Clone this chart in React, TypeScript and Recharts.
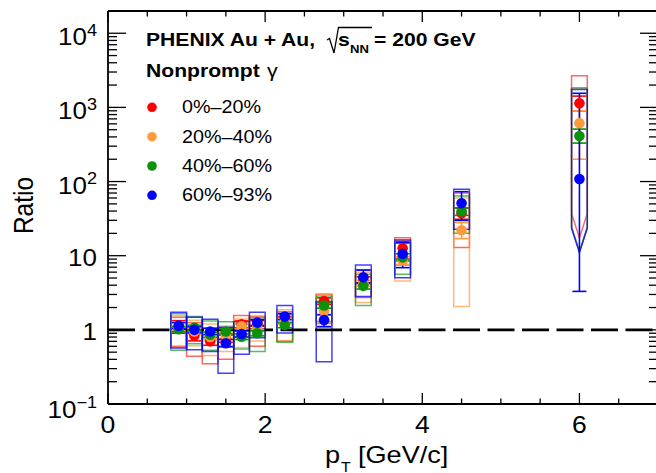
import React from 'react';
import { ComposedChart, Scatter, ErrorBar, XAxis, YAxis, ReferenceArea, ReferenceLine } from 'recharts';

// pT bin centres [GeV/c]
const ptBins = [0.9, 1.1, 1.3, 1.5, 1.7, 1.9, 2.25, 2.75, 3.25, 3.75, 4.5, 6.0];
// bins whose systematic box ends in a lower-limit arrow
const arrowBins = [6.0];
const boxHalfWidth = 0.1;

const centralityLabels = ['0%\u201320%', '20%\u201340%', '40%\u201360%', '60%\u201393%'];
const seriesColors = ['#ff0000', '#ff9a3c', '#0a920a', '#0000ff'];
const boxOpacity = [0.6, 0.7, 0.65, 0.75];

// 0%-20%
const ratio0020 = [1.1, 0.84, 0.7, 0.76, 1.19, 1.22, 1.35, 2.45, 4.7, 12.6, 37.4, 1135];
const statLo0020 = [0.9, 0.71, 0.62, 0.68, 1.06, 1.12, 1.22, 2.2, 4.2, 9.0, 31, 900];
const statHi0020 = [1.33, 0.97, 0.79, 0.85, 1.32, 1.33, 1.49, 2.7, 5.2, 15.5, 44, 1420];
const sysLo0020 = [0.6, 0.44, 0.35, 0.4, 0.82, 0.6, 0.7, 1.23, 2.73, 7.5, 12.9, 17.4];
const sysHi0020 = [1.48, 1.25, 1.05, 1.07, 1.56, 1.5, 1.75, 3.03, 6.44, 17.5, 70, 2680];

// 20%-40%
const ratio2040 = [1.05, 0.95, 0.8, 0.83, 1.12, 1.09, 1.3, 1.8, 4.25, 8.6, 22, 613];
const statLo2040 = [0.97, 0.87, 0.73, 0.76, 1.03, 1.0, 1.2, 1.6, 3.9, 7.6, 17, 200];
const statHi2040 = [1.14, 1.04, 0.88, 0.91, 1.22, 1.18, 1.42, 2.0, 4.65, 9.7, 28, 900];
const sysLo2040 = [0.58, 0.61, 0.45, 0.51, 0.58, 0.71, 0.72, 1.15, 2.33, 4.57, 2.06, 11.4];
const sysHi2040 = [1.55, 1.35, 1.2, 1.13, 1.4, 1.55, 1.86, 3.03, 6.0, 16.3, 60, 1820];

// 40%-60%
const ratio4060 = [1.02, 1.07, 0.86, 0.95, 0.81, 0.9, 1.16, 2.13, 3.92, 9.5, 39.4, 410];
const statLo4060 = [0.94, 0.99, 0.79, 0.88, 0.74, 0.83, 1.07, 1.95, 3.55, 8.5, 35, 330];
const statHi4060 = [1.1, 1.15, 0.93, 1.03, 0.88, 0.97, 1.26, 2.32, 4.3, 10.6, 44, 510];
const sysLo4060 = [0.53, 0.65, 0.53, 0.6, 0.55, 0.51, 0.68, 1.3, 2.13, 5.6, 20.1, 11.4];
const sysHi4060 = [1.65, 1.51, 1.32, 1.29, 1.2, 1.45, 1.6, 2.85, 5.6, 14.7, 64, 1820];

// 60%-93%
const ratio6093 = [1.14, 1.0, 0.95, 0.66, 0.88, 1.25, 1.51, 1.36, 5.12, 10.6, 51, 108];
const statLo6093 = [1.04, 0.91, 0.86, 0.59, 0.8, 1.14, 1.37, 1.1, 4.3, 6.9, 30, 3.3];
const statHi6093 = [1.25, 1.1, 1.05, 0.74, 0.97, 1.37, 1.66, 1.6, 6.4, 15, 73, 1550];
const sysLo6093 = [0.57, 0.54, 0.51, 0.26, 0.47, 0.78, 0.91, 0.37, 2.81, 5.06, 22.7, 11.0];
const sysHi6093 = [1.73, 1.48, 1.39, 1.08, 1.29, 1.73, 2.13, 2.41, 7.5, 16.3, 78.6, 1740];

const xTickValues = [0, 0.5, 1, 1.5, 2, 2.5, 3, 3.5, 4, 4.5, 5, 5.5, 6, 6.5, 7];
const xTickLabels = [0, 2, 4, 6];
const yDecades = [-1, 0, 1, 2, 3, 4];
const yMantissas = [1, 2, 3, 4, 5, 6, 7, 8, 9];
const yTickValues = yDecades
  .flatMap((k) => yMantissas.map((m) => m * Math.pow(10, k)))
  .filter((v) => v < 19000);

const FONT = '"Liberation Sans", Arial, Helvetica, sans-serif';
const SX = 1.13; // the original figure is a little wider than tall

const series = [
  { values: ratio0020, statLo: statLo0020, statHi: statHi0020, sysLo: sysLo0020, sysHi: sysHi0020 },
  { values: ratio2040, statLo: statLo2040, statHi: statHi2040, sysLo: sysLo2040, sysHi: sysHi2040 },
  { values: ratio4060, statLo: statLo4060, statHi: statHi4060, sysLo: sysLo4060, sysHi: sysHi4060 },
  { values: ratio6093, statLo: statLo6093, statHi: statHi6093, sysLo: sysLo6093, sysHi: sysHi6093 },
].map((s, i) => ({
  ...s,
  name: centralityLabels[i],
  color: seriesColors[i],
  boxOpacity: boxOpacity[i],
  points: ptBins.map((x, j) => ({
    x,
    y: s.values[j],
    err: [s.values[j] - s.statLo[j], s.statHi[j] - s.values[j]],
  })),
}));

function isDecade(v: number) {
  const l = Math.log10(v);
  return Math.abs(l - Math.round(l)) < 1e-6;
}

function LeftTick(props: any) {
  const { x, y, payload } = props;
  const v = payload.value;
  const major = isDecade(v);
  const k = Math.round(Math.log10(v));
  const base = k === 0 ? '1' : '10';
  const sup = k < 0 ? `\u2212${-k}` : k >= 2 ? String(k) : null;
  const dy = sup ? (k < 0 ? 13.5 : 12) : 10;
  return (
    <g>
      <line x1={x} x2={x + (major ? 18 : 9)} y1={y} y2={y} stroke="#000" strokeWidth={1.3} />
      {major && (
        <text
          transform={`translate(${x - 11},${y + dy}) scale(${SX},1)`}
          textAnchor="end"
          fontSize={23}
          fontFamily={FONT}
          fill="#000"
        >
          {base}
          {sup && (
            <tspan dy={-9.5} fontSize={16}>
              {sup}
            </tspan>
          )}
        </text>
      )}
    </g>
  );
}

function RightTick(props: any) {
  const { x, y, payload } = props;
  const major = isDecade(payload.value);
  return <line x1={x} x2={x - (major ? 18 : 9)} y1={y} y2={y} stroke="#000" strokeWidth={1.3} />;
}

function BottomTick(props: any) {
  const { x, y, payload } = props;
  const v = payload.value;
  const major = xTickLabels.includes(v);
  return (
    <g>
      <line x1={x} x2={x} y1={y} y2={y - (major ? 11 : 5.5)} stroke="#000" strokeWidth={1.3} />
      {major && (
        <text
          transform={`translate(${x},${y + 28.5}) scale(${SX},1)`}
          textAnchor="middle"
          fontSize={23.5}
          fontFamily={FONT}
          fill="#000"
        >
          {v}
        </text>
      )}
    </g>
  );
}

function TopTick(props: any) {
  const { x, y, payload } = props;
  const major = xTickLabels.includes(payload.value);
  return <line x1={x} x2={x} y1={y} y2={y + (major ? 11 : 5.5)} stroke="#000" strokeWidth={1.3} />;
}

// systematic box whose lower edge is an arrow (lower limit)
function ArrowBox(props: any) {
  const { x, y, width, height, stroke, strokeOpacity, strokeWidth } = props;
  const depth = width * 1.55;
  const d = `M${x},${y + height - depth} L${x},${y} L${x + width},${y} L${x + width},${y + height - depth} L${
    x + width / 2
  },${y + height} Z`;
  return <path d={d} fill="none" stroke={stroke} strokeOpacity={strokeOpacity} strokeWidth={strokeWidth} />;
}

function Txt({ x, y, size, weight = 'normal', anchor = 'start', children }: any) {
  return (
    <text
      transform={`translate(${x},${y}) scale(${SX},1)`}
      textAnchor={anchor}
      fontSize={size}
      fontWeight={weight}
      fontFamily={FONT}
      fill="#000"
    >
      {children}
    </text>
  );
}

function Overlay() {
  const legendRows = [107.3, 136.7, 166, 195.3];
  return (
    <svg width={656} height={473} style={{ position: 'absolute', left: 0, top: 0, pointerEvents: 'none' }}>
      {/* header */}
      <Txt x={146} y={46} size={18.7} weight="bold">
        PHENIX Au + Au,
      </Txt>
      <path d="M327,40 L329.5,38.5 L334,53 L338.5,27.5 L372,27.5" fill="none" stroke="#000" strokeWidth={1.3} />
      <Txt x={338} y={46} size={18.7} weight="bold">
        s
      </Txt>
      <Txt x={350} y={53} size={11.6} weight="bold">
        NN
      </Txt>
      <Txt x={374} y={46} size={18.7} weight="bold">
        = 200 GeV
      </Txt>
      <Txt x={146} y={77} size={18.7} weight="bold">
        Nonprompt
      </Txt>
      <Txt x={267} y={77} size={19}>
        {'\u03b3'}
      </Txt>

      {/* legend */}
      {series.map((s, i) => (
        <g key={s.name}>
          <circle cx={152} cy={legendRows[i]} r={4.8} fill={s.color} />
          <Txt x={182} y={legendRows[i] + 6} size={17.5}>
            {s.name}
          </Txt>
        </g>
      ))}

      {/* axis titles */}
      <text
        transform={`translate(33,205.5) rotate(-90) scale(1,${SX})`}
        textAnchor="middle"
        fontSize={24.5}
        fontFamily={FONT}
        fill="#000"
      >
        Ratio
      </text>
      <Txt x={325} y={463} size={24}>
        p
      </Txt>
      <Txt x={341} y={471.5} size={14}>
        T
      </Txt>
      <Txt x={358} y={463} size={24}>
        [GeV/c]
      </Txt>
    </svg>
  );
}

export default function App() {
  const axisLine = { stroke: '#000', strokeWidth: 1.8 };
  return (
    <div
      style={{
        position: 'fixed',
        left: 0,
        top: 0,
        width: 656,
        height: 473,
        overflow: 'hidden',
        background: '#fff',
      }}
    >
      <ComposedChart width={670} height={473} margin={{ top: 0, right: 0, bottom: 0, left: 0 }}>
        <XAxis
          xAxisId="b"
          dataKey="x"
          type="number"
          domain={[0, 7]}
          ticks={xTickValues}
          interval={0}
          height={69}
          tickSize={0}
          tickMargin={0}
          tickLine={false}
          axisLine={axisLine}
          tick={<BottomTick />}
          allowDataOverflow
        />
        <XAxis
          xAxisId="t"
          orientation="top"
          dataKey="x"
          type="number"
          domain={[0, 7]}
          ticks={xTickValues}
          interval={0}
          height={11}
          tickSize={0}
          tickMargin={0}
          tickLine={false}
          axisLine={axisLine}
          tick={<TopTick />}
          allowDataOverflow
        />
        <YAxis
          yAxisId="l"
          dataKey="y"
          type="number"
          scale="log"
          domain={[0.1, 19953]}
          ticks={yTickValues}
          interval={0}
          width={108}
          tickSize={0}
          tickMargin={0}
          tickLine={false}
          axisLine={axisLine}
          tick={<LeftTick />}
          allowDataOverflow
        />
        <YAxis
          yAxisId="r"
          orientation="right"
          dataKey="y"
          type="number"
          scale="log"
          domain={[0.1, 19953]}
          ticks={yTickValues}
          interval={0}
          width={12}
          tickSize={0}
          tickMargin={0}
          tickLine={false}
          axisLine={axisLine}
          tick={<RightTick />}
          allowDataOverflow
        />

        {series.map((s) =>
          ptBins.map((pt, j) => (
            <ReferenceArea
              key={`${s.name}-${pt}`}
              xAxisId="b"
              yAxisId="l"
              x1={pt - boxHalfWidth}
              x2={pt + boxHalfWidth}
              y1={s.sysLo[j]}
              y2={s.sysHi[j]}
              fill="none"
              fillOpacity={0}
              stroke={s.color}
              strokeOpacity={s.boxOpacity}
              strokeWidth={1.5}
              ifOverflow="visible"
              shape={arrowBins.includes(pt) ? (p: any) => <ArrowBox {...p} /> : undefined}
            />
          ))
        )}

        <ReferenceLine
          xAxisId="b"
          yAxisId="l"
          y={1}
          stroke="#000"
          strokeWidth={2.6}
          strokeDasharray="27 7.5"
        />

        {series.map((s) => (
          <Scatter
            key={s.name}
            name={s.name}
            xAxisId="b"
            yAxisId="l"
            data={s.points}
            fill={s.color}
            isAnimationActive={false}
            shape={(p: any) => <circle cx={p.cx} cy={p.cy} r={5.3} fill={s.color} />}
          >
            <ErrorBar dataKey="err" direction="y" width={7} stroke={s.color} strokeWidth={1.6} />
          </Scatter>
        ))}
      </ComposedChart>
      <Overlay />
    </div>
  );
}
